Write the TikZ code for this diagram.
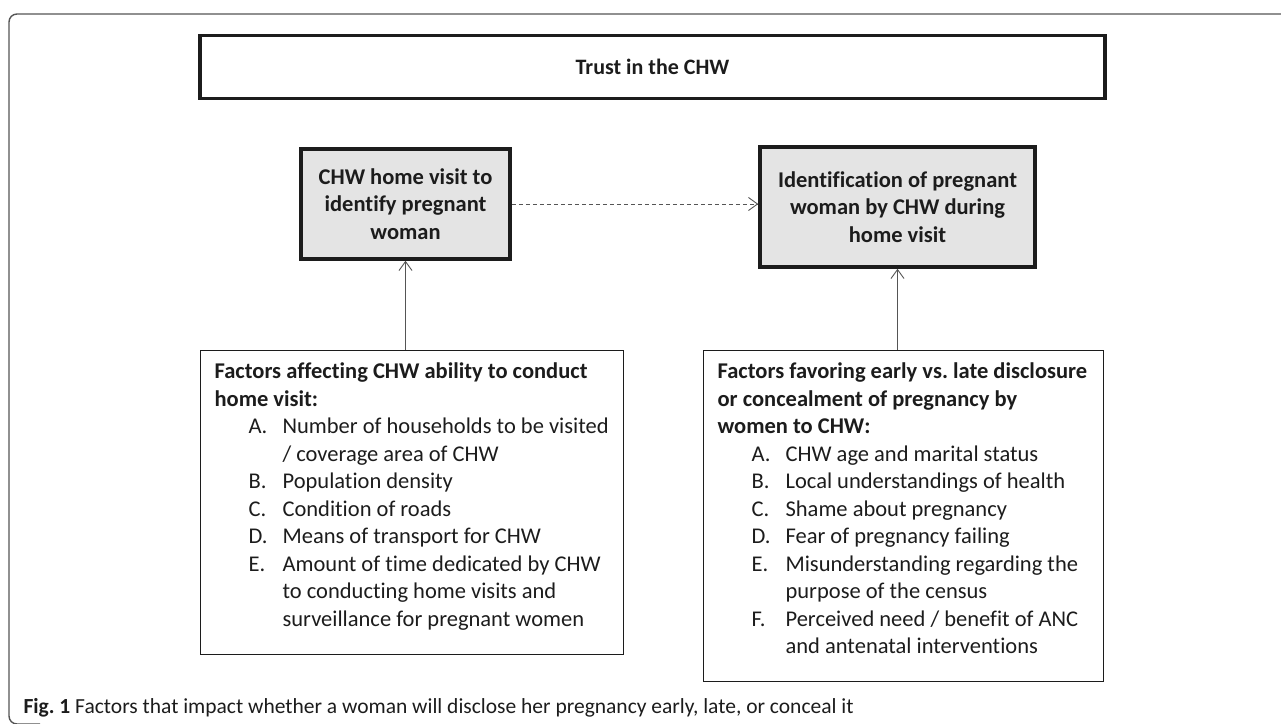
\documentclass[tikz,border=0pt]{standalone}
\usepackage{fontspec}
\setmainfont{Carlito}[Ligatures=NoCommon]
\usetikzlibrary{arrows.meta}
\definecolor{boxgray}{RGB}{228,228,228}
\definecolor{inkgray}{RGB}{28,28,28}
\definecolor{linegray}{RGB}{85,85,85}
\frenchspacing

% list lines inside the factor boxes
\newcommand{\fitem}[2]{\hspace*{34pt}\makebox[34pt][l]{#1}#2}
\newcommand{\fcont}[1]{\hspace*{68pt}#1}

\begin{document}
\begin{tikzpicture}[x=1pt,y=-1pt,>={Straight Barb[length=9pt,width=13pt]},
  every node/.style={text=inkgray,font=\fontsize{22.5}{27.5}\selectfont},
  trustbox/.style={draw=inkgray,line width=3.5pt,minimum width=905pt,minimum height=63pt,
    font=\bfseries\fontsize{22}{27.5}\selectfont},
  actbox/.style={draw=inkgray,fill=boxgray,line width=3.5pt,align=center,
    font=\bfseries\fontsize{22.5}{27.5}\selectfont},
  factbox/.style={draw=inkgray,line width=1.2pt,anchor=north west,inner xsep=14pt,inner ysep=0pt},
  link/.style={->,draw=linegray,line width=0.9pt}]
\useasboundingbox (0,0) rectangle (1281,723);
% outer frame
\draw[linegray,line width=1.4pt,rounded corners=8pt] (1290,14) -- (9,14) -- (9,724) -- (40,724);

\node[trustbox] (trust) at (652.5,67) {Trust in the CHW};

\node[actbox,minimum width=209pt,minimum height=110pt] (visit) at (405.5,204)
  {CHW home visit to\\identify pregnant\\woman};
\node[actbox,minimum width=275pt,minimum height=120pt] (ident) at (897.5,207)
  {Identification of pregnant\\woman by CHW during\\home visit};

\node[factbox] (ability) at (200,350) {\parbox[c][304pt][t]{395pt}{\rule{0pt}{28pt}%
  \textbf{Factors affecting CHW ability to conduct}\\
  \textbf{home visit:}\\
  \fitem{A.}{Number of households to be visited}\\
  \fcont{/ coverage area of CHW}\\
  \fitem{B.}{Population density}\\
  \fitem{C.}{Condition of roads}\\
  \fitem{D.}{Means of transport for CHW}\\
  \fitem{E.}{Amount of time dedicated by CHW}\\
  \fcont{to conducting home visits and}\\
  \fcont{surveillance for pregnant women}}};

\node[factbox] (disclose) at (703,350) {\parbox[c][331pt][t]{372pt}{\rule{0pt}{28pt}%
  \textbf{Factors favoring early vs. late disclosure}\\
  \textbf{or concealment of pregnancy by}\\
  \textbf{women to CHW:}\\
  \fitem{A.}{CHW age and marital status}\\
  \fitem{B.}{Local understandings of health}\\
  \fitem{C.}{Shame about pregnancy}\\
  \fitem{D.}{Fear of pregnancy failing}\\
  \fitem{E.}{Misunderstanding regarding the}\\
  \fcont{purpose of the census}\\
  \fitem{F.}{Perceived need / benefit of ANC}\\
  \fcont{and antenatal interventions}}};

\draw[link,dash pattern=on 4pt off 3pt] (visit.east) -- (visit.east -| ident.west);
\draw[link] (visit.south |- ability.north) -- (visit.south);
\draw[link] (ident.south |- disclose.north) -- (ident.south);

\node[anchor=west,font=\fontsize{21.5}{26}\selectfont] (caption) at (20,708) {\textbf{Fig. 1} Factors that impact whether a woman will disclose her pregnancy early, late, or conceal it};
\end{tikzpicture}
\end{document}
